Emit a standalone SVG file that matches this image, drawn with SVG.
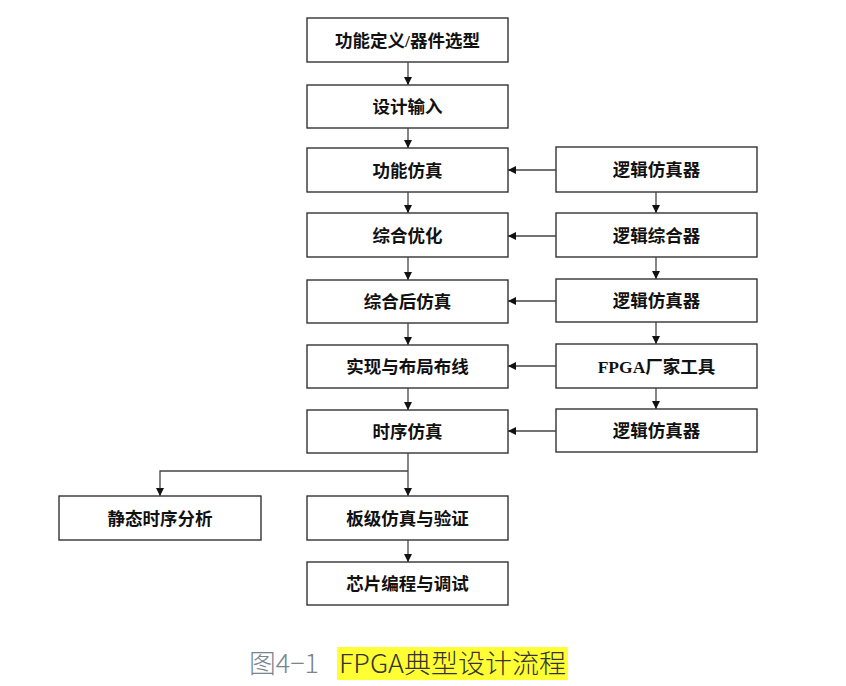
<svg xmlns="http://www.w3.org/2000/svg" width="846" height="686" viewBox="0 0 846 686">
<defs>
<marker id="ah" viewBox="0 0 10 10" refX="10" refY="5" markerWidth="8" markerHeight="8" markerUnits="userSpaceOnUse" orient="auto">
<path d="M0,0 L10,5 L0,10 z" fill="#111"/>
</marker>
<style>
.box{fill:#fff;stroke:#333;stroke-width:1.4}
.t{font-family:"Liberation Serif","Noto Sans CJK SC",serif;font-weight:bold;font-size:17.5px;fill:#111;text-anchor:middle}
.c{stroke:#444;stroke-width:1.3;fill:none;marker-end:url(#ah)}
.cap{font-family:"Noto Sans CJK SC","Noto Sans",sans-serif;font-size:26px;font-weight:300}
</style>
</defs>
<rect width="846" height="686" fill="#fff"/>
<g id="n1"><rect class="box" x="307" y="18" width="201" height="44"/><text class="t" x="407.5" y="47">功能定义/器件选型</text></g>
<g id="n2"><rect class="box" x="307" y="85" width="201" height="43"/><text class="t" x="407.5" y="113">设计输入</text></g>
<g id="n3"><rect class="box" x="307" y="148" width="201" height="44"/><text class="t" x="407.5" y="177">功能仿真</text></g>
<g id="n4"><rect class="box" x="307" y="213" width="201" height="44"/><text class="t" x="407.5" y="242">综合优化</text></g>
<g id="n5"><rect class="box" x="307" y="280" width="201" height="43"/><text class="t" x="407.5" y="308">综合后仿真</text></g>
<g id="n6"><rect class="box" x="307" y="345" width="201" height="43"/><text class="t" x="407.5" y="373">实现与布局布线</text></g>
<g id="n7"><rect class="box" x="307" y="410" width="201" height="43"/><text class="t" x="407.5" y="438">时序仿真</text></g>
<g id="n8"><rect class="box" x="59" y="496" width="202" height="44"/><text class="t" x="160" y="525">静态时序分析</text></g>
<g id="n9"><rect class="box" x="307" y="496" width="201" height="44"/><text class="t" x="407.5" y="525">板级仿真与验证</text></g>
<g id="n10"><rect class="box" x="307" y="562" width="201" height="43"/><text class="t" x="407.5" y="590">芯片编程与调试</text></g>
<g id="r1"><rect class="box" x="556" y="147" width="201" height="45"/><text class="t" x="656.5" y="176">逻辑仿真器</text></g>
<g id="r2"><rect class="box" x="556" y="213" width="201" height="44"/><text class="t" x="656.5" y="242">逻辑综合器</text></g>
<g id="r3"><rect class="box" x="556" y="279" width="201" height="43"/><text class="t" x="656.5" y="307">逻辑仿真器</text></g>
<g id="r4"><rect class="box" x="556" y="344" width="201" height="44"/><text class="t" x="656.5" y="373">FPGA厂家工具</text></g>
<g id="r5"><rect class="box" x="556" y="409" width="201" height="43"/><text class="t" x="656.5" y="437">逻辑仿真器</text></g>
<g id="connectors">
<line class="c" x1="408" y1="62" x2="408" y2="85"/>
<line class="c" x1="408" y1="128" x2="408" y2="148"/>
<line class="c" x1="408" y1="192" x2="408" y2="213"/>
<line class="c" x1="408" y1="257" x2="408" y2="280"/>
<line class="c" x1="408" y1="323" x2="408" y2="345"/>
<line class="c" x1="408" y1="388" x2="408" y2="410"/>
<line class="c" x1="408" y1="453" x2="408" y2="496"/>
<line class="c" x1="408" y1="540" x2="408" y2="562"/>
<polyline class="c" points="408,471 160,471 160,496"/>
<line class="c" x1="656" y1="192" x2="656" y2="213"/>
<line class="c" x1="656" y1="257" x2="656" y2="279"/>
<line class="c" x1="656" y1="322" x2="656" y2="344"/>
<line class="c" x1="656" y1="388" x2="656" y2="409"/>
<line class="c" x1="556" y1="170" x2="508" y2="170"/>
<line class="c" x1="556" y1="236" x2="508" y2="236"/>
<line class="c" x1="556" y1="301" x2="508" y2="301"/>
<line class="c" x1="556" y1="366" x2="508" y2="366"/>
<line class="c" x1="556" y1="431" x2="508" y2="431"/>
</g>
<g id="caption">
<rect x="337" y="647" width="231" height="33" fill="#ffff33"/>
<text class="cap" x="249" y="673" fill="#7a8490" textLength="70" lengthAdjust="spacingAndGlyphs">图4−1</text>
<text class="cap" x="339" y="673" fill="#333" textLength="227" lengthAdjust="spacingAndGlyphs">FPGA典型设计流程</text>
</g>
</svg>
